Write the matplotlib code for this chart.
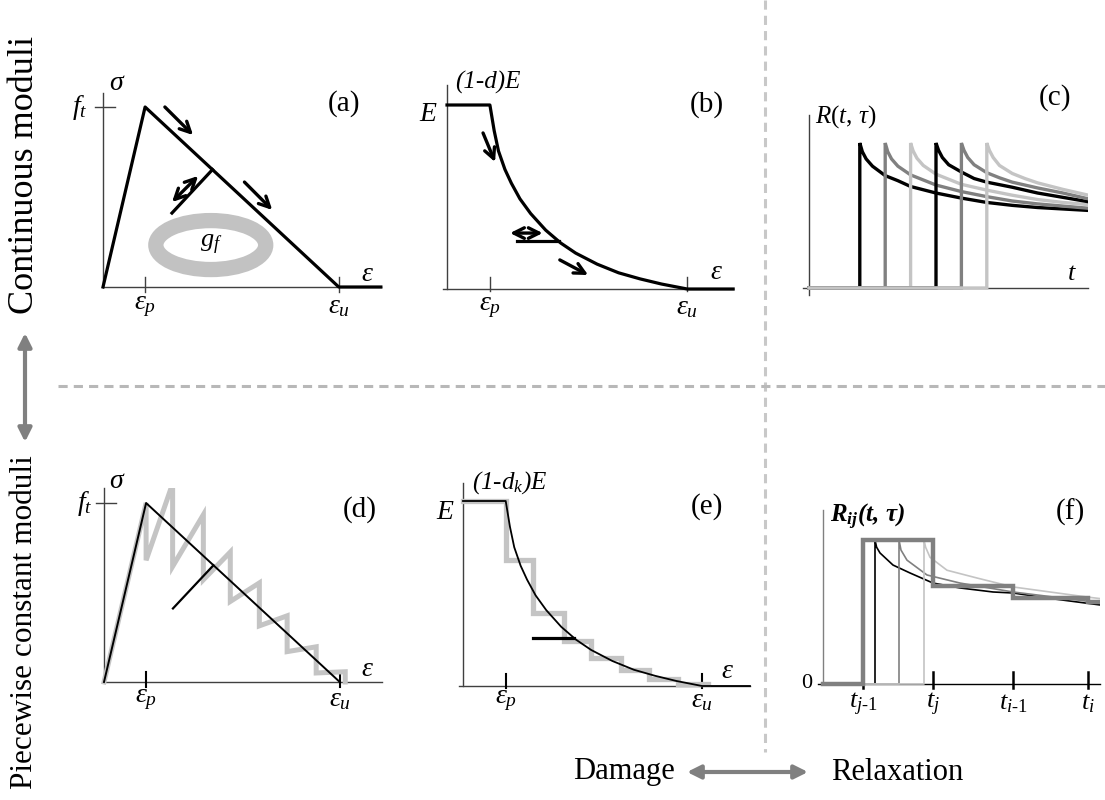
import numpy as np
import matplotlib.pyplot as plt
from matplotlib.patches import Ellipse

plt.rcParams['font.family'] = 'Liberation Serif'
plt.rcParams['mathtext.fontset'] = 'custom'
plt.rcParams['mathtext.rm'] = 'Liberation Serif'
plt.rcParams['mathtext.it'] = 'Liberation Serif:italic'
plt.rcParams['mathtext.bf'] = 'Liberation Serif:bold'
plt.rcParams['mathtext.bfit'] = 'Liberation Serif:italic:bold'

# strain / stress landmarks (strain in units of eps_p, stress in units of f_t)
eps_p = 1.0
eps_u = 5.6
f_t = 1.0
eps_end = 6.6

# unloading point on the softening branch and how far the unloading line runs back
unload_eps = 2.6
unload_frac = 0.63

# damaged modulus (1-d)E / E read along the softening branch
dmg_eps = [1.0, 1.1, 1.2, 1.35, 1.5, 1.7, 1.95, 2.3, 2.65, 3.0, 3.5, 4.0, 4.5, 5.0, 5.6]
dmg_val = [1.0, 0.86, 0.75, 0.65, 0.575, 0.49, 0.41, 0.32, 0.25, 0.195, 0.135, 0.088, 0.055, 0.027, 0.0]

# piecewise constant moduli: end strain of each step and its modulus (E = 1)
step_ends = [1.63, 2.36, 3.0, 3.69, 4.35, 5.04, 5.73]
step_mod = [0.68, 0.396, 0.242, 0.150, 0.085, 0.039, 0.010]

# relaxation curves R(t, tau): loading ages and values after loading
relax_onset = [2, 3, 4, 5, 6, 7]
relax_dt = [0, 0.1, 0.25, 0.5, 1, 1.5, 2, 3, 4, 5, 6, 7, 8, 9]
relax_vals = [
    [1, .94, .89, .84, .775, .74, .70, .655, .62, .59, .57, .555, .545, .535],
    [1, .94, .89, .84, .78, .745, .71, .665, .63, .60, .58, .565, .55, .54],
    [1, .945, .895, .845, .785, .75, .715, .675, .64, .61, .59, .575, .56, .55],
    [1, .95, .90, .85, .80, .755, .73, .695, .655, .625, .595, .58, .565, .555],
    [1, .95, .90, .85, .795, .76, .73, .69, .655, .615, .60, .585, .575, .565],
    [1, .95, .90, .845, .79, .755, .725, .68, .64, .62, .60, .585, .57, .56],
]
relax_colors = ['black', '#808080', '#c4c4c4', 'black', '#808080', '#c4c4c4']

# discretised relaxation: time nodes, constant values between them
node_t = [2.0, 5.5, 9.5, 13.25]
node_labels = [r'$t_{\mathit{j}\text{-}\mathit{1}}$', r'$t_j$',
               r'$t_{\mathit{i}\text{-}\mathit{1}}$', r'$t_i$']
node_vals = [1.0, 0.68, 0.60, 0.57]
t_end = 13.85
cont_onset = [2.6, 3.8, 5.05]
cont_dt = [
    [0, 0.08, 0.25, 0.9, 1.75, 2.9, 4.25, 5.9, 6.9, 8.6, 11.25],
    [0, 0.1, 0.4, 1.4, 3.05, 5.7, 9.7, 11.0],
    [0, 0.08, 0.3, 1.15, 2.65, 4.45, 8.15, 9.0],
]
cont_vals = [
    [1, 0.95, 0.91, 0.826, 0.771, 0.701, 0.667, 0.639, 0.632, 0.597, 0.549],
    [1, 0.93, 0.86, 0.757, 0.701, 0.639, 0.57, 0.56],
    [1, 0.95, 0.88, 0.79, 0.736, 0.674, 0.604, 0.59],
]
cont_colors = ['black', '#808080', '#c4c4c4']

W, H = 1105, 800
fig = plt.figure(figsize=(W / 100, H / 100), dpi=100)

# overlay in pixel units for the frame texts and separators
ov = fig.add_axes([0, 0, 1, 1])
ov.set_xlim(0, W)
ov.set_ylim(H, 0)
ov.axis('off')

AX = '#404040'
LIGHT = '#c4c4c4'
FS = 20


def panel(x0, y0, sx, sy, xlim, ylim):
    # data (0, 0) lands on pixel (x0, y0), pixels counted from the top
    left = x0 + xlim[0] * sx
    right = x0 + xlim[1] * sx
    bottom = H - (y0 - ylim[0] * sy)
    top = H - (y0 - ylim[1] * sy)
    ax = fig.add_axes([left / W, bottom / H, (right - left) / W, (top - bottom) / H])
    ax.set_xlim(*xlim)
    ax.set_ylim(*ylim)
    ax.axis('off')
    return ax


def frame(ax, x0, x1, y0, y1, color=AX, ycolor=None, lw=1.0):
    ax.plot([x0, x1], [0, 0], color=color, lw=lw, clip_on=False, zorder=1)
    ax.plot([0, 0], [y0, y1], color=ycolor or color, lw=lw, clip_on=False, zorder=1)


def xtick(ax, x, lo, hi, lw=1.0, color=AX):
    ax.plot([x, x], [lo, hi], color=color, lw=lw, clip_on=False)


def arrow(ax, a, b, style='->', lw=2.4):
    ax.annotate('', xy=b, xytext=a,
                arrowprops=dict(arrowstyle=style, lw=lw, color='black',
                                mutation_scale=19, shrinkA=0, shrinkB=0))


soft_x = [0, eps_p, eps_u]
soft_y = [0, f_t, 0]
s_unload = np.interp(unload_eps, [eps_p, eps_u], [f_t, 0])
m_unload = np.interp(unload_eps, dmg_eps, dmg_val)

# ---- (a) continuous softening law ----
ax = panel(103, 287, 42.1, 180, (-0.7, 6.8), (-0.2, 1.25))
frame(ax, 0, eps_end, 0, 1.078)
for e in (eps_p, eps_u):
    xtick(ax, e, -0.03, 0.056)
ax.plot([-0.19, 0.28], [f_t, f_t], color=AX, lw=1.0, clip_on=False)
ax.plot(soft_x + [eps_end], soft_y + [0], color='black', lw=2.3)
ax.plot([unload_eps, unload_eps * unload_frac], [s_unload, s_unload * unload_frac],
        color='black', lw=2.3)
ax.add_patch(Ellipse((2.56, 0.233), 2.61, 0.272, fill=False, ec='#c2c2c2', lw=11))
ax.text(2.56, 0.233, r'$g_f$', fontsize=FS - 1, ha='center', va='center')
arrow(ax, (1.47, 1.0), (2.14, 0.844))
arrow(ax, (3.36, 0.583), (4.02, 0.428))
arrow(ax, (1.64, 0.472), (2.26, 0.617), '<->')
ax.text(0.33, 1.13, r'$\sigma$', fontsize=FS, ha='center', va='center')
ax.text(-0.55, f_t, r'$f_t$', fontsize=FS, ha='center', va='center')
ax.text(6.27, 0.07, r'$\epsilon$', fontsize=FS, ha='center', va='center')
ax.text(eps_p, -0.11, r'$\epsilon_p$', fontsize=FS, ha='center', va='center')
ax.text(eps_u, -0.11, r'$\epsilon_u$', fontsize=FS, ha='center', va='center')

# ---- (b) continuous damaged modulus ----
ax = panel(447, 289, 42.9, 184, (-0.7, 6.8), (-0.2, 1.25))
frame(ax, -0.09, 6.67, 0, 1.11)
for e in (eps_p, eps_u):
    xtick(ax, e, -0.01, 0.065)
ax.plot([0] + dmg_eps + [6.67], [1] + dmg_val + [0], color='black', lw=2.3)
ax.plot([unload_eps * unload_frac, unload_eps], [m_unload, m_unload], color='black', lw=2.3)
arrow(ax, (0.84, 0.848), (1.12, 0.69))
arrow(ax, (2.63, 0.158), (3.29, 0.076))
arrow(ax, (1.47, 0.304), (2.23, 0.304), '<->')
ax.text(0.96, 1.12, '(1-d)E', fontsize=FS - 2, style='italic', ha='center', va='center')
ax.text(-0.44, 0.95, r'$E$', fontsize=FS, ha='center', va='center')
ax.text(6.29, 0.087, r'$\epsilon$', fontsize=FS, ha='center', va='center')
ax.text(eps_p, -0.1, r'$\epsilon_p$', fontsize=FS, ha='center', va='center')
ax.text(eps_u, -0.1, r'$\epsilon_u$', fontsize=FS, ha='center', va='center')

# ---- (c) continuous relaxation functions ----
ax = panel(809, 288, 25.4, 145, (-0.4, 11.0), (-0.15, 1.3))
frame(ax, -0.24, 11.0, -0.05, 1.19)
for onset, vals, c in zip(relax_onset, relax_vals, relax_colors):
    t = [0, onset] + [onset + d for d in relax_dt]
    ax.plot(t, [0, 0] + vals, color=c, lw=2.4, solid_joinstyle='miter')
ax.text(0.24, 1.18, r'$R(t,\,\tau)$', fontsize=FS - 2, ha='left', va='center')
ax.text(10.35, 0.1, r'$t$', fontsize=FS - 1, ha='center', va='center')

# ---- (d) piecewise constant moduli, stress-strain ----
ax = panel(104, 682, 42.1, 179, (-0.7, 6.8), (-0.2, 1.084))
frame(ax, 0, eps_end, 0, 1.084)
for e in (eps_p, eps_u):
    xtick(ax, e, -0.03, 0.056, lw=1.5, color='black')
ax.plot([-0.19, 0.28], [f_t, f_t], color=AX, lw=1.0, clip_on=False)
px, py = [0, eps_p, eps_p], [0, f_t, step_mod[0] * eps_p]
for k, e in enumerate(step_ends):
    px.append(e)
    py.append(step_mod[k] * e)
    px.append(e)
    py.append(step_mod[k + 1] * e if k + 1 < len(step_ends) else 0)
ax.plot(px, py, color=LIGHT, lw=3.6, solid_joinstyle='miter')
ax.plot(soft_x, soft_y, color='black', lw=1.4)
ax.plot([unload_eps, unload_eps * unload_frac], [s_unload, s_unload * unload_frac],
        color='black', lw=1.6)
ax.text(0.31, 1.12, r'$\sigma$', fontsize=FS, ha='center', va='center')
ax.text(-0.45, f_t, r'$f_t$', fontsize=FS, ha='center', va='center')
ax.text(6.25, 0.07, r'$\epsilon$', fontsize=FS, ha='center', va='center')
ax.text(eps_p, -0.1, r'$\epsilon_p$', fontsize=FS, ha='center', va='center')
ax.text(eps_u, -0.1, r'$\epsilon_u$', fontsize=FS, ha='center', va='center')

# ---- (e) piecewise constant damaged modulus ----
ax = panel(463, 686, 42.7, 185, (-0.7, 6.8), (-0.2, 1.25))
frame(ax, -0.09, 6.72, 0, 1.1)
for e in (eps_p, eps_u):
    xtick(ax, e, -0.01, 0.065, lw=1.5, color='black')
sx_, sy_ = [0, eps_p], [1, 1]
prev = eps_p
for e, m in zip(step_ends, step_mod):
    sx_ += [prev, e]
    sy_ += [m, m]
    prev = e
ax.plot(sx_, sy_, color=LIGHT, lw=3.8, solid_joinstyle='miter')
ax.plot([0] + dmg_eps + [6.72], [1] + dmg_val + [0], color='black', lw=1.3)
ax.plot([unload_eps * unload_frac, unload_eps], [m_unload, m_unload], color='black', lw=2.3)
ax.text(1.1, 1.1, '(1-' + r'$d_k$' + ')E', fontsize=FS - 2, style='italic',
        ha='center', va='center')
ax.text(-0.42, 0.94, r'$E$', fontsize=FS, ha='center', va='center')
ax.text(6.2, 0.076, r'$\epsilon$', fontsize=FS, ha='center', va='center')
ax.text(eps_p, -0.08, r'$\epsilon_p$', fontsize=FS, ha='center', va='center')
ax.text(eps_u, -0.08, r'$\epsilon_u$', fontsize=FS, ha='center', va='center')

# ---- (f) piecewise constant relaxation ----
ax = panel(823, 684, 20, 144, (-1.2, t_end), (-0.25, 1.3))
frame(ax, -0.25, t_end, 0, 1.21, color='black', ycolor='#808080', lw=1.0)
for t in node_t:
    xtick(ax, t, -0.03, 0.085, lw=1.8, color='black')
for onset, dts, vals, c in zip(cont_onset, cont_dt, cont_vals, cont_colors):
    ax.plot([0, onset] + [onset + d for d in dts], [0, 0] + vals, color=c, lw=1.2)
qx, qy = [0, node_t[0]], [0, 0]
for k, t in enumerate(node_t):
    qx += [t, node_t[k + 1] if k + 1 < len(node_t) else t_end]
    qy += [node_vals[k], node_vals[k]]
ax.plot(qx, qy, color='#808080', lw=3.2, solid_joinstyle='miter')
ax.text(-0.8, 0, '0', fontsize=FS - 4, ha='center', va='center')
for t, lab in zip(node_t, node_labels):
    ax.text(t, -0.14, lab, fontsize=FS - 1, ha='center', va='center')
ax.text(0.35, 1.16, r'$\mathbfit{R}_{\mathbfit{ij}}$' + '(t, τ)', fontsize=FS - 2,
        style='italic', weight='bold', ha='left', va='center')

# ---- frame: panel letters, separators, row/column captions ----
for lab, x, y in [('(a)', 344, 104), ('(b)', 707, 105), ('(c)', 1055, 98),
                  ('(d)', 360, 510), ('(e)', 707, 507), ('(f)', 1070, 512)]:
    ov.text(x, y, lab, fontsize=FS + 1, ha='center', va='center')

ov.plot([765, 765], [0, 752], color='#c8c8c8', lw=2.2, dashes=(3.0, 2.0))
ov.plot([58, W], [386, 386], color='#b8b8b8', lw=2.2, dashes=(3.0, 2.0))

ov.text(25, 175, 'Continuous moduli', rotation=90, fontsize=26, ha='center', va='center')
ov.text(25, 622, 'Piecewise constant moduli', rotation=90, fontsize=22.5,
        ha='center', va='center')
ov.annotate('', xy=(25, 333), xytext=(25, 442),
            arrowprops=dict(arrowstyle='<|-|>', color='#808080', lw=3,
                            mutation_scale=20, shrinkA=0, shrinkB=0))
ov.text(624, 772, 'Damage', fontsize=22, ha='center', va='center')
ov.text(897, 772, 'Relaxation', fontsize=22, ha='center', va='center')
ov.annotate('', xy=(687, 772), xytext=(808, 772),
            arrowprops=dict(arrowstyle='<|-|>', color='#808080', lw=3,
                            mutation_scale=20, shrinkA=0, shrinkB=0))

fig.savefig('out.png', dpi=100)
